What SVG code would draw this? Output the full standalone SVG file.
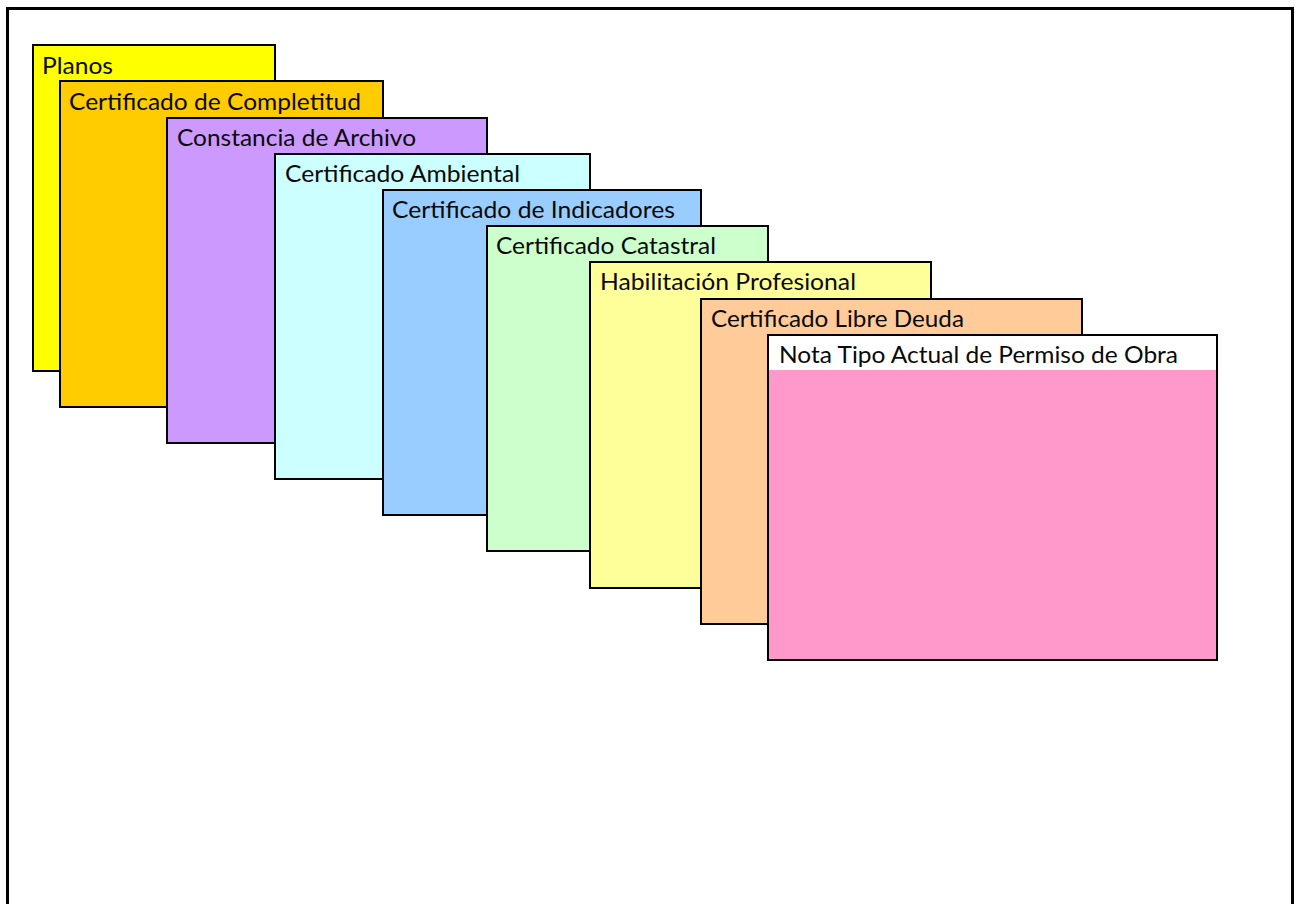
<svg xmlns="http://www.w3.org/2000/svg" width="1300" height="904" viewBox="0 0 1300 904">
<style>
.card{stroke:#000;stroke-width:2}
.lbl{font-family:"Lato","Open Sans","Liberation Sans",sans-serif;font-size:23px;fill:#0a0a0a}
</style>
<rect width="1300" height="904" fill="#fff"/>
<path id="frame" d="M7.500 904V8.500H1292.500V904" fill="none" stroke="#000" stroke-width="3"/>
<g id="n1"><rect class="card" x="33" y="45" width="242" height="326" fill="#ffff00"/><text class="lbl" x="42" y="74" textLength="71" lengthAdjust="spacingAndGlyphs">Planos</text></g>
<g id="n2"><rect class="card" x="60" y="81" width="323" height="326" fill="#ffcc00"/><text class="lbl" x="69" y="110" textLength="292" lengthAdjust="spacingAndGlyphs">Certificado de Completitud</text></g>
<g id="n3"><rect class="card" x="167" y="118" width="320" height="325" fill="#cc99ff"/><text class="lbl" x="177" y="146" textLength="239" lengthAdjust="spacingAndGlyphs">Constancia de Archivo</text></g>
<g id="n4"><rect class="card" x="275" y="154" width="315" height="325" fill="#ccffff"/><text class="lbl" x="285" y="182" textLength="235" lengthAdjust="spacingAndGlyphs">Certificado Ambiental</text></g>
<g id="n5"><rect class="card" x="383" y="190" width="318" height="325" fill="#99ccff"/><text class="lbl" x="392" y="218" textLength="283" lengthAdjust="spacingAndGlyphs">Certificado de Indicadores</text></g>
<g id="n6"><rect class="card" x="487" y="226" width="281" height="325" fill="#ccffcc"/><text class="lbl" x="496" y="254" textLength="220" lengthAdjust="spacingAndGlyphs">Certificado Catastral</text></g>
<g id="n7"><rect class="card" x="590" y="262" width="341" height="326" fill="#ffff99"/><text class="lbl" x="600" y="290" textLength="256" lengthAdjust="spacingAndGlyphs">Habilitación Profesional</text></g>
<g id="n8"><rect class="card" x="701" y="299" width="381" height="325" fill="#ffcc99"/><text class="lbl" x="711" y="327" textLength="253" lengthAdjust="spacingAndGlyphs">Certificado Libre Deuda</text></g>
<g id="n9"><rect class="card" x="768" y="335" width="449" height="325" fill="#ff99cc"/><rect x="769" y="336" width="447" height="34" fill="#fff"/><text class="lbl" x="779" y="363" textLength="399" lengthAdjust="spacingAndGlyphs">Nota Tipo Actual de Permiso de Obra</text></g>
<g id="connectors"/>
</svg>
